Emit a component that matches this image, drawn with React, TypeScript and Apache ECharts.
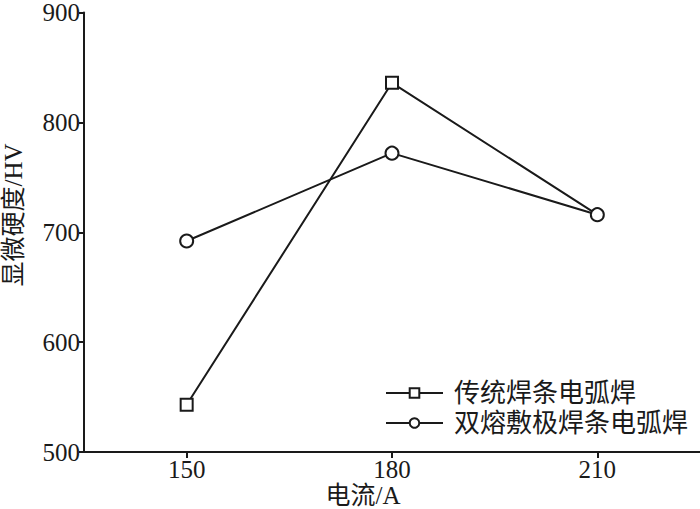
import React, { useEffect, useRef } from "react";
import * as echarts from "echarts";

const currents = [150, 180, 210];
const traditional = [543, 836, 716];
const doubleMelt = [692, 772, 716];
const seriesNames = ["传统焊条电弧焊", "双熔敷极焊条电弧焊"];
const xName = "电流/A";
const yName = "显微硬度/HV";

const FONT = "'Liberation Serif', 'Noto Sans CJK SC', serif";
const INK = "#1a1a1a";

export default function App() {
  const ref = useRef<HTMLDivElement>(null);
  useEffect(() => {
    const chart = echarts.init(ref.current!, null, { renderer: "svg" });
    const mk = (vals: number[]) => currents.map((c, i) => [c, vals[i]]);
    // Where both series coincide, only the circle is drawn (as in the reference)
    const squareData = currents.map((c, i) =>
      traditional[i] === doubleMelt[i] ? { value: [c, traditional[i]], symbol: "none" } : { value: [c, traditional[i]] }
    );
    chart.setOption({
      animation: false,
      backgroundColor: "#fff",
      textStyle: { fontFamily: FONT },
      grid: { left: 84, right: 0, top: 8, bottom: 57 },
      xAxis: {
        type: "value",
        min: 135,
        max: 225,
        splitLine: { show: false },
        axisLine: { show: true, onZero: false, lineStyle: { color: INK, width: 2 } },
        axisTick: { show: true, length: 6, customValues: currents, lineStyle: { color: INK, width: 2 } },
        axisLabel: { customValues: currents, color: INK, fontSize: 25, fontFamily: FONT, margin: 5 },
      },
      yAxis: {
        type: "value",
        min: 500,
        max: 900,
        interval: 100,
        splitLine: { show: false },
        axisLine: { show: true, lineStyle: { color: INK, width: 2 } },
        axisTick: { show: true, length: 5, lineStyle: { color: INK, width: 2 } },
        axisLabel: { color: INK, fontSize: 25, fontFamily: FONT, margin: 4 },
      },
      legend: {
        orient: "vertical",
        left: 380,
        top: 375,
        itemWidth: 57,
        itemHeight: 12,
        itemGap: 4,
        data: seriesNames,
        textStyle: { color: INK, fontSize: 26, fontFamily: FONT, lineHeight: 26, padding: [0, 0, 0, 6] },
      },
      graphic: [
        {
          type: "text",
          x: 363,
          y: 495,
          style: { text: xName, fontSize: 25, fontFamily: FONT, fill: INK, align: "center", verticalAlign: "middle" },
        },
        {
          type: "text",
          x: 13,
          y: 215,
          rotation: Math.PI / 2,
          style: { text: yName, fontSize: 25, fontFamily: FONT, fill: INK, align: "center", verticalAlign: "middle" },
        },
      ],
      series: [
        {
          name: seriesNames[0],
          type: "line",
          data: squareData,
          symbol: "rect",
          symbolSize: 12,
          lineStyle: { color: INK, width: 2 },
          itemStyle: { color: "#fff", borderColor: INK, borderWidth: 2 },
          z: 3,
        },
        {
          name: seriesNames[1],
          type: "line",
          data: mk(doubleMelt),
          symbol: "circle",
          symbolSize: 13,
          lineStyle: { color: INK, width: 2 },
          itemStyle: { color: "#fff", borderColor: INK, borderWidth: 2 },
          z: 4,
        },
      ],
    });
    return () => chart.dispose();
  }, []);
  return <div ref={ref} style={{ width: 700, height: 509, position: "absolute", left: 0, top: 0 }} />;
}
